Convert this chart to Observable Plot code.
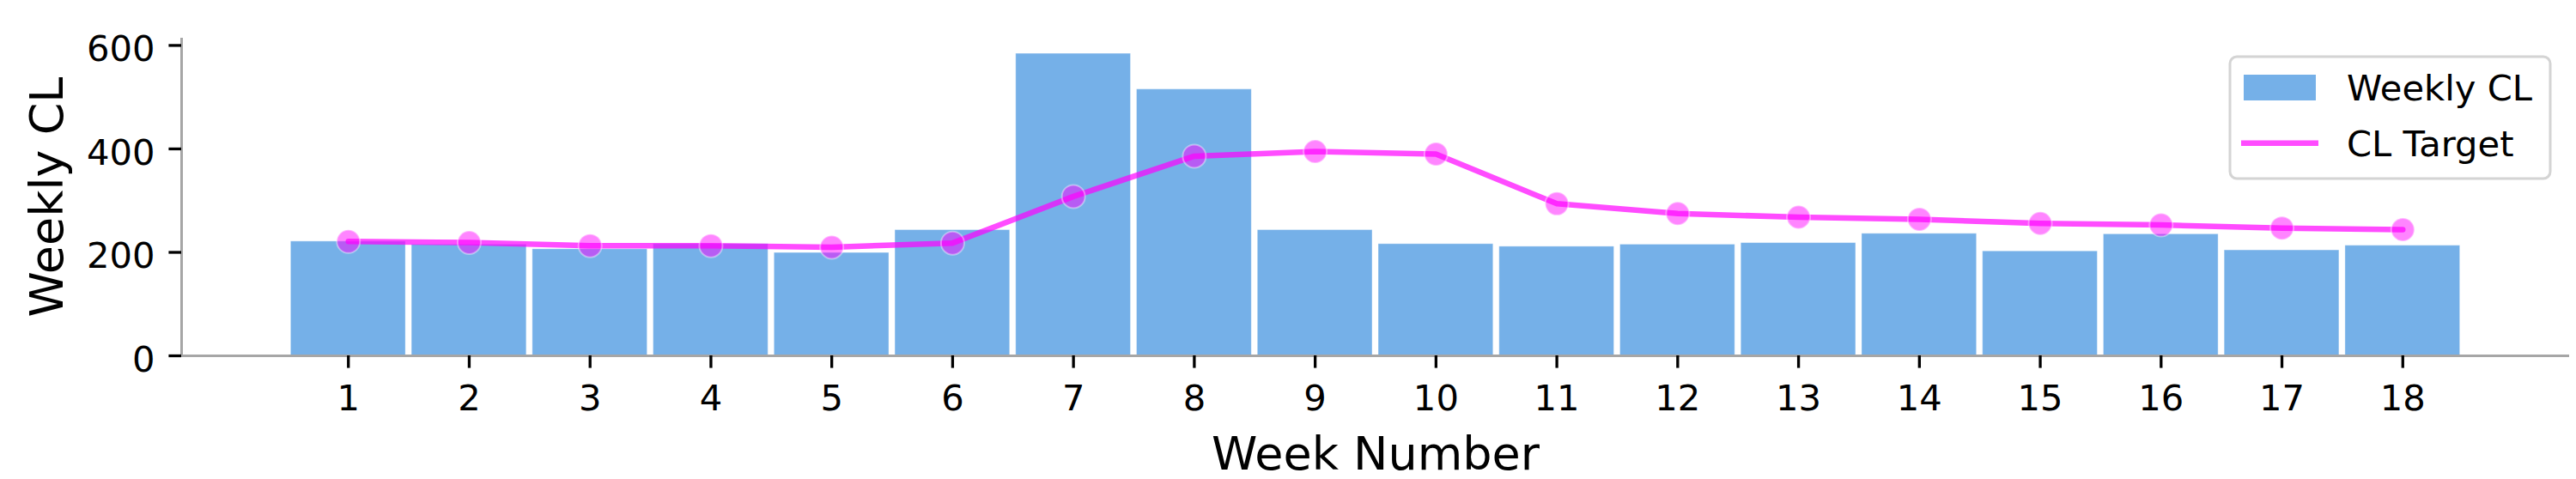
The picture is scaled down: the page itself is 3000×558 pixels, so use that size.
<!DOCTYPE html>
<html><head><meta charset="utf-8">
<script src="https://cdn.jsdelivr.net/npm/d3@7"></script>
<script src="https://cdn.jsdelivr.net/npm/@observablehq/plot@0.6"></script>
<style>
html,body{margin:0;padding:0;background:#fff;}
#wrap{position:relative;width:3000px;height:558px;font-family:"DejaVu Sans",sans-serif;}
#legend{position:absolute;left:0;top:0;pointer-events:none;}
</style></head><body><div id="wrap"></div>
<script>
const weeks = [1,2,3,4,5,6,7,8,9,10,11,12,13,14,15,16,17,18];
const weeklyCL = [221,215,206,216,199,243,584,515,243,216,211,215,218,236,202,235,204,213];
const clTarget = [221,219,213,213,210,218,308,386,395,390,294,275,268,264,256,253,247,244];
const yTicks = [0,200,400,600];
const xLabel = "Week Number";
const yLabel = "Weekly CL";
const seriesNames = ["Weekly CL","CL Target"];

const data = weeks.map((w,i)=>({week:w, cl:weeklyCL[i], target:clTarget[i]}));
const barColor = "#75b0e8";
const lineColor = "#ff00ff";
const xDomain = [-0.38, 19.38];
const spine = "#a6a6a6";

const chart = Plot.plot({
  width:3000, height:558, marginLeft:211, marginRight:8, marginTop:44, marginBottom:144,
  style:{fontFamily:"DejaVu Sans", color:"#000", background:"#fff", overflow:"visible"},
  x:{domain:xDomain}, y:{domain:[0,614]},
  marks:[
    Plot.rectY(data,{x1:d=>d.week-0.475,x2:d=>d.week+0.475,y1:0,y2:"cl",fill:barColor,stroke:"#fff",strokeOpacity:0.35,strokeWidth:1}),
    Plot.ruleY([0],{stroke:spine,strokeWidth:3}),
    Plot.ruleX([xDomain[0]],{stroke:spine,strokeWidth:3}),
    Plot.line(data,{x:"week",y:"target",stroke:lineColor,strokeOpacity:0.7,strokeWidth:6.5}),
    Plot.dot(data,{x:"week",y:"target",r:13.5,fill:lineColor,fillOpacity:0.48,stroke:"#fff",strokeOpacity:0.4,strokeWidth:2}),
    Plot.axisX(weeks,{tickSize:14.6,tickPadding:19,fontSize:41.7,strokeWidth:3.3,label:null,tickFormat:d=>String(d)}),
    Plot.axisY(yTicks,{tickSize:14.6,tickFormat:()=>"",strokeWidth:3.3,label:null}),
    Plot.axisY(yTicks,{tickSize:0,tickPadding:31,dy:5,fontSize:41.7,label:null}),
    Plot.text([xLabel],{text:d=>d,frameAnchor:"bottom",dy:132.7,lineAnchor:"bottom",textAnchor:"middle",fontSize:54,fill:"#000"}),
    Plot.text([yLabel],{text:d=>d,frameAnchor:"left",dx:-139,rotate:-90,lineAnchor:"bottom",textAnchor:"middle",fontSize:54,fill:"#000"})
  ]
});
const wrap = document.getElementById("wrap");
wrap.appendChild(chart);

// legend overlay
const ns = "http://www.w3.org/2000/svg";
const lg = document.createElementNS(ns,"svg");
lg.setAttribute("id","legend");
lg.setAttribute("width","3000");
lg.setAttribute("height","558");
const box = document.createElementNS(ns,"rect");
Object.entries({x:2597,y:66,width:373,height:142,rx:8,fill:"rgba(255,255,255,0.8)",stroke:"#d4d4d4","stroke-width":3}).forEach(([k,v])=>box.setAttribute(k,v));
lg.appendChild(box);
const patch = document.createElementNS(ns,"rect");
Object.entries({x:2613,y:87,width:84,height:30,fill:barColor}).forEach(([k,v])=>patch.setAttribute(k,v));
lg.appendChild(patch);
const ln = document.createElementNS(ns,"line");
Object.entries({x1:2610,x2:2700,y1:166.7,y2:166.7,stroke:lineColor,"stroke-opacity":0.7,"stroke-width":6.5}).forEach(([k,v])=>ln.setAttribute(k,v));
lg.appendChild(ln);
seriesNames.forEach((n,i)=>{
  const t = document.createElementNS(ns,"text");
  t.setAttribute("x",2733);
  t.setAttribute("y",i===0?117.3:181.7);
  t.setAttribute("font-size","41.7");
  t.setAttribute("font-family","DejaVu Sans");
  t.setAttribute("fill","#000");
  t.textContent = n;
  lg.appendChild(t);
});
wrap.appendChild(lg);
</script></body></html>
